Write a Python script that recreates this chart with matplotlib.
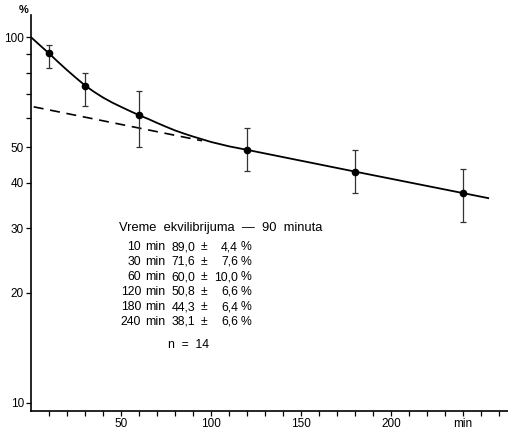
import matplotlib
matplotlib.use("Agg")
import matplotlib.pyplot as plt
from matplotlib.ticker import FixedLocator, NullFormatter

plt.rcParams["font.family"] = ["Liberation Sans", "DejaVu Sans"]

# measured points (minutes, %)
times = [10, 30, 60, 120, 180, 240]
means = [90.4, 73.6, 61.1, 49.2, 42.9, 37.5]
err_low = [82.4, 64.9, 50.2, 43.1, 37.6, 31.3]
err_high = [95.3, 79.9, 71.3, 56.5, 49.2, 43.5]

# solid curve
curve_t = [0, 5, 10, 15, 20, 25, 30, 35, 40, 45, 50, 55, 60, 65, 70, 75, 80,
           85, 90, 95, 100, 105, 110, 120, 180, 254]
curve_v = [100, 95.0, 90.3, 85.6, 81.3, 77.4, 73.8, 70.9, 68.4, 66.3, 64.5,
           62.8, 61.2, 59.8, 58.3, 56.9, 55.6, 54.5, 53.5, 52.6, 51.7, 51.0,
           50.3, 49.2, 42.9, 36.3]

# dashed extrapolation of the slow component
dash_t = [1.5, 95]
dash_v = [64.5, 52.1]

# table text
tab_min = ["10", "30", "60", "120", "180", "240"]
tab_mean = ["89,0", "71,6", "60,0", "50,8", "44,3", "38,1"]
tab_sd = ["4,4", "7,6", "10,0", "6,6", "6,4", "6,6"]

W, H = 508, 430
fig = plt.figure(figsize=(W / 100, H / 100), dpi=100)
ax = fig.add_axes([31 / W, 19 / H, 1 - 31 / W, 396 / H])

ax.plot(curve_t, curve_v, color="black", lw=1.3)
ax.plot(dash_t, dash_v, color="black", lw=1.2, ls=(0, (6, 4)))
lo = [m - l for m, l in zip(means, err_low)]
hi = [h - m for m, h in zip(means, err_high)]
ax.errorbar(times, means, yerr=[lo, hi], fmt="o", color="black", ms=4.5,
            ecolor="#333333", elinewidth=0.9, capsize=2.5, capthick=0.9)

ax.set_yscale("log")
ax.set_ylim(9.5, 115)
ax.set_xlim(0, 265)

ax.yaxis.set_major_locator(FixedLocator([10, 20, 30, 40, 50, 100]))
ax.yaxis.set_minor_locator(FixedLocator([60, 70, 80, 90]))
ax.set_yticklabels(["10", "20", "30", "40", "50", "100"])
ax.yaxis.set_minor_formatter(NullFormatter())

ax.set_xticks([50, 100, 150, 200, 240])
ax.set_xticklabels(["50", "100", "150", "200", "min"])
ax.xaxis.set_minor_locator(FixedLocator(list(range(10, 261, 10))))

ax.tick_params(axis="both", which="both", direction="out", length=3.5,
               width=0.9, labelsize=8.5, pad=1.5)
for s in ["top", "right"]:
    ax.spines[s].set_visible(False)
for s in ["left", "bottom"]:
    ax.spines[s].set_linewidth(1.2)


def fx(x):
    return x / W


def fy(y):
    return 1 - y / H


fig.text(fx(24), fy(10), "%", fontsize=8, fontweight="bold", ha="center", va="center")

fs = 8.8
fig.text(fx(119), fy(228), "Vreme  ekvilibrijuma  —  90  minuta", fontsize=9.3,
         ha="left", va="center")
for i in range(len(tab_min)):
    y = fy(247 + 15 * i)
    fig.text(fx(141), y, tab_min[i], fontsize=fs, ha="right", va="center")
    fig.text(fx(145), y, "min", fontsize=fs, ha="left", va="center")
    fig.text(fx(195), y, tab_mean[i], fontsize=fs, ha="right", va="center")
    fig.text(fx(204), y, "±", fontsize=fs, ha="center", va="center")
    fig.text(fx(238), y, tab_sd[i], fontsize=fs, ha="right", va="center")
    fig.text(fx(241), y, "%", fontsize=fs, ha="left", va="center")
fig.text(fx(168), fy(345), "n  =  14", fontsize=fs, ha="left", va="center")

fig.savefig("out.png", dpi=100)
